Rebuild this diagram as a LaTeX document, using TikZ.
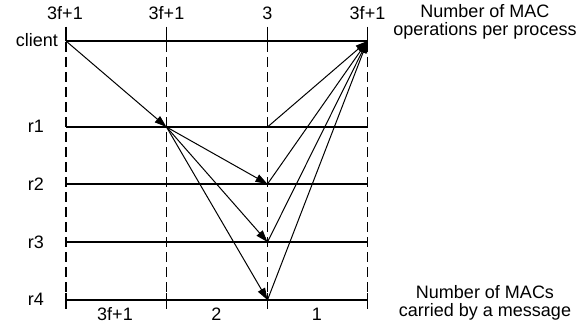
\documentclass[tikz,border=0pt]{standalone}
\usepackage{fontspec}
\setmainfont{Liberation Sans}
\usepackage{tikz}
\usetikzlibrary{arrows.meta}

\begin{document}
\begin{tikzpicture}[x=1pt, y=-1pt, >={Triangle[length=12pt,width=8pt]},
  font=\fontsize{18}{18}\selectfont,
  proc/.style={line width=1.2pt},
  col/.style={line width=1.2pt, dash pattern=on 10pt off 5pt},
  msg/.style={->, line width=1pt},
  txt/.style={inner sep=0pt, anchor=base}]
\useasboundingbox (0,0) rectangle (586,329);

% grid points: one column per phase, one row per process
\foreach \x [count=\i] in {66,166.5,267.5,367.5} {
  \coordinate (top-\i) at (\x,27);
  \coordinate (bot-\i) at (\x,309);
  \coordinate (tk-\i) at (\x,293);
  \foreach \y/\r in {41/client,127/r1,184/r2,242/r3,300/r4}
    \coordinate (\r-\i) at (\x,\y);
}

% columns
\foreach \i in {1,...,4} {
  \draw[col] (top-\i) -- (bot-\i);
  \draw[proc] (top-\i) -- (client-\i);
  \draw[proc] (tk-\i) -- (bot-\i);
}

% process lines
\foreach \r in {client,r1,r2,r3,r4}
  \draw[proc] (\r-1) -- (\r-4);

% process names
\node[txt, anchor=base east] (lclient) at (58,46.5) {client};
\node[txt] (lr1) at (36,132.7) {r1};
\node[txt] (lr2) at (36,190.5) {r2};
\node[txt] (lr3) at (36,248.3) {r3};
\node[txt] (lr4) at (36,305.7) {r4};

% MAC operations per process
\node[txt] (op1) at (65,19.5) {3f+1};
\node[txt] (op2) at (166.5,19.5) {3f+1};
\node[txt] (op3) at (267.5,19.5) {3};
\node[txt] (op4) at (367.5,19.5) {3f+1};
\node[inner sep=0pt, align=center] (opttl) at (485,22) {Number of MAC\\operations per process};

% MACs carried by a message
\node[txt] (mc1) at (115,320) {3f+1};
\node[txt] (mc2) at (216.5,320) {2};
\node[txt] (mc3) at (317,320) {1};
\node[inner sep=0pt, align=center] (mcttl) at (485,303) {Number of MACs\\carried by a message};

% messages
\draw[msg] (client-1) -- (r1-2);
\draw[msg] (r1-2) -- (r2-3);
\draw[msg] (r1-2) -- (r3-3);
\draw[msg] (r1-2) -- (r4-3);
\draw[msg] (r1-3) -- (client-4);
\draw[msg] (r2-3) -- (client-4);
\draw[msg] (r3-3) -- (client-4);
\draw[msg] (r4-3) -- (client-4);
\end{tikzpicture}
\end{document}
